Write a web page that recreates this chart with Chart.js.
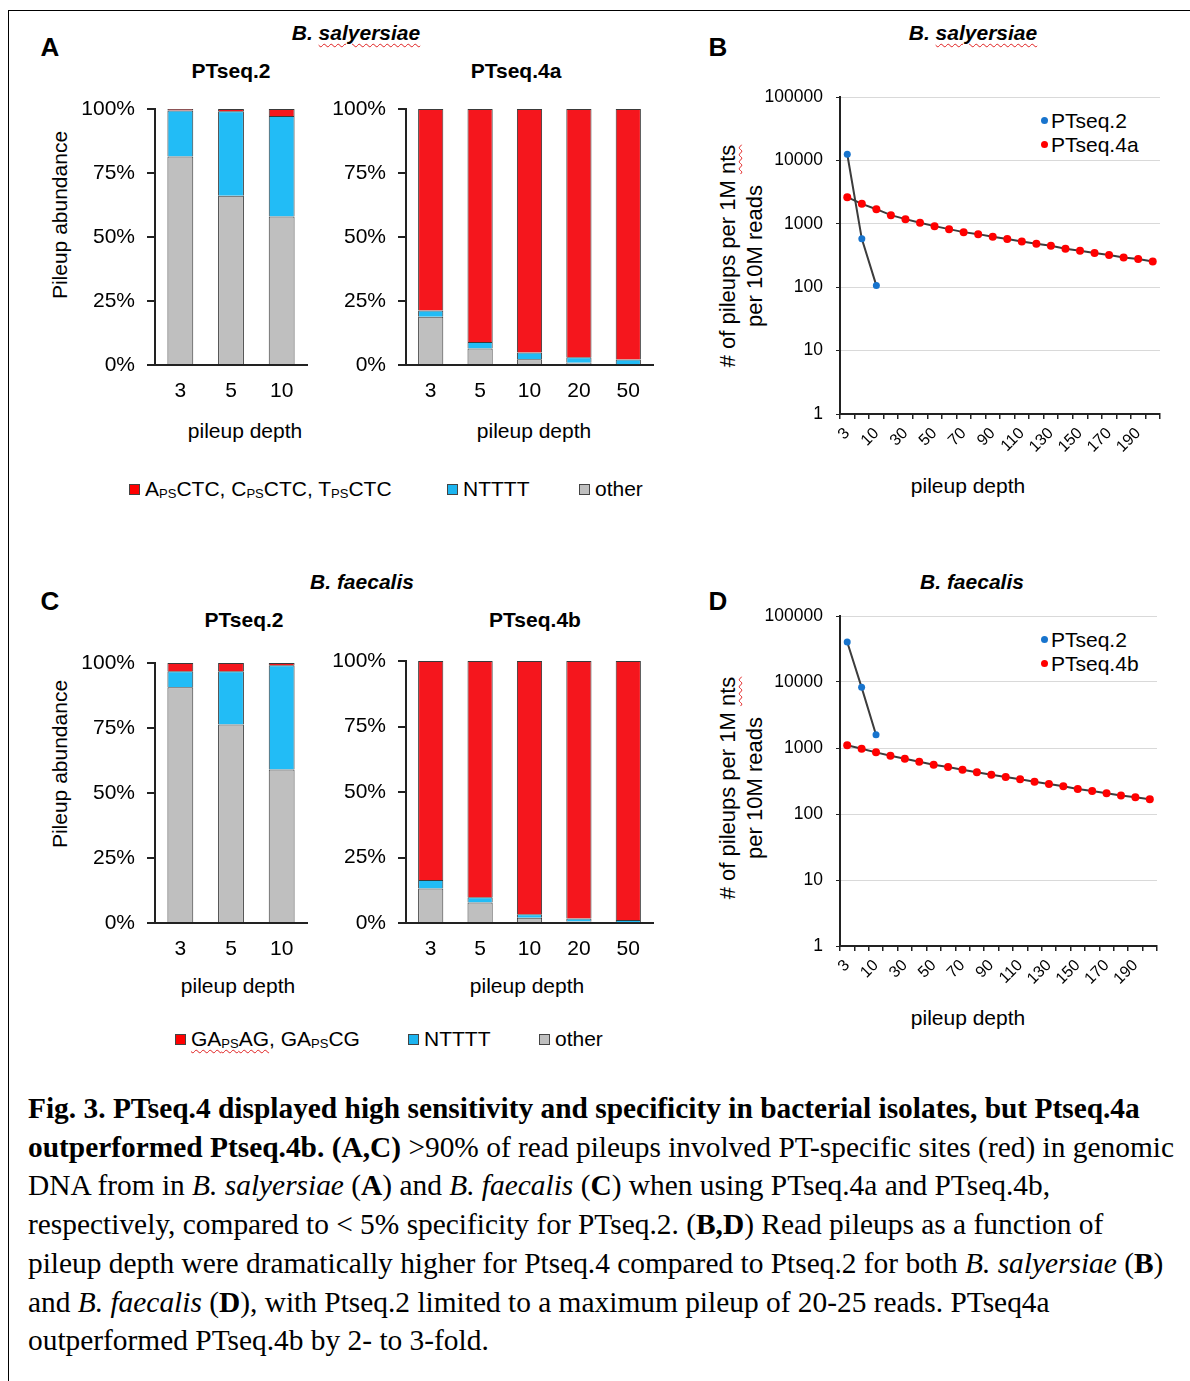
<!DOCTYPE html>
<html>
<head>
<meta charset="utf-8">
<script src="https://cdn.jsdelivr.net/npm/chart.js@4.4.1/dist/chart.umd.min.js"></script>
<style>
body{margin:0;background:#fff;width:1190px;height:1381px;position:relative;overflow:hidden;font-family:"Liberation Sans",Arial,sans-serif;color:#000}
.t{position:absolute;white-space:nowrap;transform:translate(-50%,-50%)}
.r{position:absolute;white-space:nowrap;transform:translate(-50%,-50%) rotate(-90deg);text-align:center}
.l{position:absolute;white-space:nowrap;transform:translateY(-50%)}
canvas{position:absolute}
.frame{position:absolute;left:8px;top:10px;width:1200px;height:1400px;border-left:1.5px solid #000;border-top:1.5px solid #000}
.sq{display:inline-block;width:9px;height:9px;border:1px solid #444;margin-right:5px;vertical-align:1px}
.dot{display:inline-block;width:7px;height:7px;border-radius:50%;margin-right:3px;vertical-align:4px}
.wavy{text-decoration:underline wavy #e02020;text-decoration-thickness:1px;text-underline-offset:3px}
sub{font-size:62%;vertical-align:-2px}
.cap{position:absolute;left:28px;top:1089px;font-family:"Liberation Serif","Times New Roman",serif;font-size:29.4px;line-height:38.7px;white-space:nowrap}
</style>
</head>
<body>
<div class="frame"></div>

<div class="t" style="left:50px;top:47px;font-size:26px;font-weight:bold">A</div>
<div class="t" style="left:718px;top:47px;font-size:26px;font-weight:bold">B</div>
<div class="t" style="left:50px;top:601px;font-size:26px;font-weight:bold">C</div>
<div class="t" style="left:718px;top:601px;font-size:26px;font-weight:bold">D</div>

<div class="t" style="left:356px;top:33px;font-size:21px;font-weight:bold;font-style:italic">B. <span class="wavy">salyersiae</span></div>
<div class="t" style="left:973px;top:33px;font-size:21px;font-weight:bold;font-style:italic">B. <span class="wavy">salyersiae</span></div>
<div class="t" style="left:362px;top:582px;font-size:21px;font-weight:bold;font-style:italic">B. faecalis</div>
<div class="t" style="left:972px;top:582px;font-size:21px;font-weight:bold;font-style:italic">B. faecalis</div>

<div class="t" style="left:231px;top:71px;font-size:21px;font-weight:bold">PTseq.2</div>
<div class="t" style="left:516px;top:71px;font-size:21px;font-weight:bold">PTseq.4a</div>
<div class="t" style="left:244px;top:620px;font-size:21px;font-weight:bold">PTseq.2</div>
<div class="t" style="left:535px;top:620px;font-size:21px;font-weight:bold">PTseq.4b</div>

<div class="r" style="left:60px;top:215px;font-size:21px">Pileup abundance</div>
<div class="r" style="left:60px;top:764px;font-size:21px">Pileup abundance</div>

<div class="t" style="left:245px;top:431px;font-size:21px">pileup depth</div>
<div class="t" style="left:534px;top:431px;font-size:21px">pileup depth</div>
<div class="t" style="left:238px;top:986px;font-size:21px">pileup depth</div>
<div class="t" style="left:527px;top:986px;font-size:21px">pileup depth</div>
<div class="t" style="left:968px;top:486px;font-size:21px">pileup depth</div>
<div class="t" style="left:968px;top:1018px;font-size:21px">pileup depth</div>

<div class="r" style="left:741px;top:256px;font-size:22px;line-height:27px"># of pileups per 1M <span class="wavy">nts</span><br>per 10M reads</div>
<div class="r" style="left:741px;top:788px;font-size:22px;line-height:27px"># of pileups per 1M <span class="wavy">nts</span><br>per 10M reads</div>

<div class="l" style="left:129px;top:489px;font-size:21px"><span class="sq" style="background:#f00"></span>A<sub>PS</sub>CTC, C<sub>PS</sub>CTC, T<sub>PS</sub>CTC</div>
<div class="l" style="left:447px;top:489px;font-size:21px"><span class="sq" style="background:#1cb4ef"></span>NTTTT</div>
<div class="l" style="left:579px;top:489px;font-size:21px"><span class="sq" style="background:#bfbfbf"></span>other</div>

<div class="l" style="left:175px;top:1039px;font-size:21px"><span class="sq" style="background:#f00"></span><span class="wavy">GA<sub>PS</sub>AG</span>, GA<sub>PS</sub>CG</div>
<div class="l" style="left:408px;top:1039px;font-size:21px"><span class="sq" style="background:#1cb4ef"></span>NTTTT</div>
<div class="l" style="left:539px;top:1039px;font-size:21px"><span class="sq" style="background:#bfbfbf"></span>other</div>

<div class="l" style="left:1041px;top:121px;font-size:21px"><span class="dot" style="background:#1874cd"></span>PTseq.2</div>
<div class="l" style="left:1041px;top:145px;font-size:21px"><span class="dot" style="background:#f00"></span>PTseq.4a</div>
<div class="l" style="left:1041px;top:640px;font-size:21px"><span class="dot" style="background:#1874cd"></span>PTseq.2</div>
<div class="l" style="left:1041px;top:664px;font-size:21px"><span class="dot" style="background:#f00"></span>PTseq.4b</div>

<div class="cap">
<b>Fig. 3. PTseq.4 displayed high sensitivity and specificity in bacterial isolates, but Ptseq.4a</b><br>
<b>outperformed Ptseq.4b. (A,C)</b> &gt;90% of read pileups involved PT-specific sites (red) in genomic<br>
DNA from in <i>B. salyersiae</i> (<b>A</b>) and <i>B. faecalis</i> (<b>C</b>) when using PTseq.4a and PTseq.4b,<br>
respectively, compared to &lt; 5% specificity for PTseq.2. (<b>B,D</b>) Read pileups as a function of<br>
pileup depth were dramatically higher for Ptseq.4 compared to Ptseq.2 for both <i>B. salyersiae</i> (<b>B</b>)<br>
and <i>B. faecalis</i> (<b>D</b>), with Ptseq.2 limited to a maximum pileup of 20-25 reads. PTseq4a<br>
outperformed PTseq.4b by 2- to 3-fold.
</div>

<script>
// bar panels (A, C): percent of pileups per depth
const depthsPT2 = ['3', '5', '10'];
const depthsPT4 = ['3', '5', '10', '20', '50'];
const pctTicks = [0, 25, 50, 75, 100];

const salyPT2Other = [81.4, 66.1, 58.0];
const salyPT2Ntttt = [18.0, 33.0, 39.3];
const salyPT2Site = [0.6, 0.9, 2.7];

const salyPT4aOther = [18.8, 6.4, 2.2, 0.9, 0.3];
const salyPT4aNtttt = [2.5, 2.6, 2.7, 2.1, 1.8];
const salyPT4aSite = [78.7, 91.0, 95.1, 97.0, 97.9];

const faecPT2Other = [90.7, 76.3, 59.0];
const faecPT2Ntttt = [6.1, 20.5, 40.1];
const faecPT2Site = [3.2, 3.2, 0.9];

const faecPT4bOther = [13.2, 7.8, 2.0, 0.6, 0.3];
const faecPT4bNtttt = [3.2, 2.0, 1.3, 1.1, 0.8];
const faecPT4bSite = [83.6, 90.2, 96.7, 98.3, 98.9];

// line panels (B, D): pileups per 1M nts per 10M reads
const depthCats = [3, 5, 10, 20, 30, 40, 50, 60, 70, 80, 90, 100, 110, 120, 130, 140, 150, 160, 170, 180, 190, 200];
const logTicks = [1, 10, 100, 1000, 10000, 100000];

const salyPT2 = [12500, 580, 106];
const salyPT4a = [2630, 2065, 1700, 1370, 1185, 1037, 919, 824, 739, 687, 624, 574, 527, 484, 451, 404, 376, 345, 321, 295, 278, 255];
const faecPT2 = [40400, 8300, 1590];
const faecPT4b = [1097, 977, 859, 765, 689, 621, 559, 515, 470, 428, 394, 364, 335, 309, 285, 263, 239, 223, 206, 190, 179, 167];

const RED = '#f5161d', BLUE = '#22bcf6', GRAY = '#bfbfbf';
const DOT_BLUE = '#1874cd', DOT_RED = '#ff0000';
const AXIS = '#222';

Chart.defaults.font.family = '"Liberation Sans", Arial, sans-serif';
Chart.defaults.color = '#000';

// canvas placed so the chart area lands on L,T,R,B
function mkCanvas(L, T, R, B, yW, xH, pad) {
    const c = document.createElement('canvas');
    const left = L - yW - pad.left, top = T - pad.top;
    c.width = R + pad.right - left;
    c.height = B + xH + pad.bottom - top;
    c.style.left = left + 'px';
    c.style.top = top + 'px';
    document.body.appendChild(c);
    return c;
}

function barChart(L, T, R, B, labels, other, ntttt, site) {
    const pad = {left: 0, top: 30, right: 6, bottom: 4};
    const c = mkCanvas(L, T, R, B, 100, 60, pad);
    new Chart(c, {
        type: 'bar',
        data: {
            labels: labels,
            datasets: [
                {label: 'other', data: other, backgroundColor: GRAY},
                {label: 'NTTTT', data: ntttt, backgroundColor: BLUE},
                {label: 'PT site', data: site, backgroundColor: RED}
            ]
        },
        options: {
            responsive: false,
            animation: false,
            layout: {padding: pad},
            datasets: {bar: {borderColor: '#3a3a3a', borderWidth: 1, barPercentage: 0.51, categoryPercentage: 1}},
            plugins: {legend: {display: false}, tooltip: {enabled: false}},
            scales: {
                x: {
                    stacked: true,
                    grid: {display: false, drawTicks: false},
                    border: {display: true, color: AXIS, width: 2},
                    ticks: {font: {size: 21}, color: '#000', padding: 14},
                    afterFit: s => { s.height = 60; }
                },
                y: {
                    stacked: true, min: 0, max: 100,
                    afterBuildTicks: s => { s.ticks = pctTicks.map(v => ({value: v})); },
                    ticks: {callback: v => v + '%', font: {size: 21}, color: '#000', padding: 12},
                    grid: {drawOnChartArea: false, tickLength: 8, color: AXIS, lineWidth: 2},
                    border: {color: AXIS, width: 2},
                    afterFit: s => { s.width = 100; }
                }
            }
        }
    });
}

function logChart(L, T, R, B, s2, s4, name4) {
    const pad = {left: 0, top: 30, right: 12, bottom: 4};
    const c = mkCanvas(L, T, R, B, 110, 50, pad);
    new Chart(c, {
        type: 'line',
        data: {
            labels: depthCats,
            datasets: [
                {label: 'PTseq.2', data: s2, borderColor: '#3c3c3c', borderWidth: 2,
                    pointBackgroundColor: DOT_BLUE, pointBorderWidth: 0, pointRadius: 3.5},
                {label: name4, data: s4, borderColor: '#3c3c3c', borderWidth: 2,
                    pointBackgroundColor: DOT_RED, pointBorderWidth: 0, pointRadius: 4}
            ]
        },
        options: {
            responsive: false,
            animation: false,
            layout: {padding: pad},
            plugins: {legend: {display: false}, tooltip: {enabled: false}},
            scales: {
                x: {
                    offset: true,
                    grid: {offset: true, drawOnChartArea: false, tickLength: 5, color: AXIS, lineWidth: 1.5},
                    border: {color: AXIS, width: 2},
                    ticks: {
                        autoSkip: false, maxRotation: 45, minRotation: 45,
                        font: {size: 16}, color: '#000', padding: 5,
                        callback: function (v, i) { return i % 2 === 0 ? this.getLabelForValue(v) : ''; }
                    },
                    afterFit: s => { s.height = 50; }
                },
                y: {
                    type: 'logarithmic', min: 1, max: 100000,
                    afterBuildTicks: s => { s.ticks = logTicks.map(v => ({value: v})); },
                    ticks: {callback: v => String(v), font: {size: 17.5}, color: '#000', padding: 13},
                    grid: {color: '#d9d9d9', lineWidth: 1, tickLength: 4, tickColor: AXIS},
                    border: {color: AXIS, width: 2},
                    afterFit: s => { s.width = 110; }
                }
            }
        }
    });
}

barChart(155, 109, 307, 365, depthsPT2, salyPT2Other, salyPT2Ntttt, salyPT2Site);
barChart(406, 109, 653, 365, depthsPT4, salyPT4aOther, salyPT4aNtttt, salyPT4aSite);
barChart(155, 663, 307, 923, depthsPT2, faecPT2Other, faecPT2Ntttt, faecPT2Site);
barChart(406, 661, 653, 923, depthsPT4, faecPT4bOther, faecPT4bNtttt, faecPT4bSite);

logChart(840, 97, 1160, 414, salyPT2, salyPT4a, 'PTseq.4a');
logChart(840, 616, 1157, 946, faecPT2, faecPT4b, 'PTseq.4b');
</script>
</body>
</html>
